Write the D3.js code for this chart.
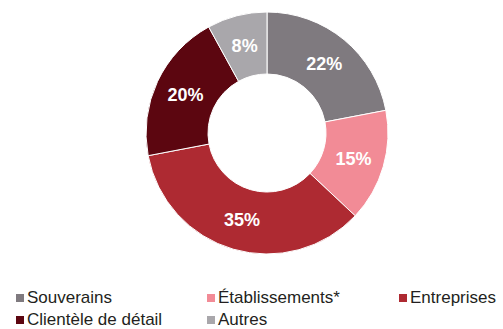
<!DOCTYPE html>
<html>
<head>
<meta charset="utf-8">
<script src="https://cdn.jsdelivr.net/npm/d3@7"></script>
<style>
  body { margin: 0; background: #fff; }
  text { font-family: "Liberation Sans", Arial, sans-serif; }
</style>
</head>
<body>
<div id="chart"></div>
<script>
// Data
const categories = ["Souverains", "Établissements*", "Entreprises", "Clientèle de détail", "Autres"];
const values = [22, 15, 35, 20, 8];
const colors = ["#7f7a7f", "#f28b96", "#ae2a32", "#5c0610", "#a9a7ab"];

const width = 503, height = 329;
const cx = 267, cy = 133;
const outerR = 121, innerR = 59;

const svg = d3.select("#chart")
    .append("svg")
    .attr("width", width)
    .attr("height", height);

const data = categories.map((c, i) => ({ name: c, value: values[i], color: colors[i] }));

const pie = d3.pie()
    .sort(null)
    .value(d => d.value);

const arc = d3.arc()
    .innerRadius(innerR)
    .outerRadius(outerR);

const g = svg.append("g")
    .attr("transform", `translate(${cx},${cy})`);

const arcs = pie(data);

// Slices
g.selectAll("path")
    .data(arcs)
    .enter().append("path")
    .attr("d", arc)
    .attr("fill", d => d.data.color)
    .attr("stroke", "#fff")
    .attr("stroke-width", 1);

// Percentage labels
g.selectAll(".pct")
    .data(arcs)
    .enter().append("text")
    .attr("class", "pct")
    .attr("transform", d => `translate(${arc.centroid(d)})`)
    .attr("text-anchor", "middle")
    .attr("dy", "0.36em")
    .style("fill", "#fff")
    .style("font-size", "18px")
    .style("font-weight", "bold")
    .text(d => d.data.value + "%");

// Legend
const legendX = [16, 207, 399];
const legendBaseline = [303, 325];

const legend = svg.selectAll(".legend")
    .data(data)
    .enter().append("g")
    .attr("class", "legend")
    .attr("transform", (d, i) => `translate(${legendX[i % 3]},${legendBaseline[Math.floor(i / 3)]})`);

legend.append("rect")
    .attr("x", 0)
    .attr("y", -9)
    .attr("width", 8)
    .attr("height", 8)
    .attr("fill", d => d.color);

legend.append("text")
    .attr("x", 11)
    .attr("y", 0)
    .style("font-size", "17px")
    .style("fill", "#231f20")
    .text(d => d.name);
</script>
</body>
</html>
